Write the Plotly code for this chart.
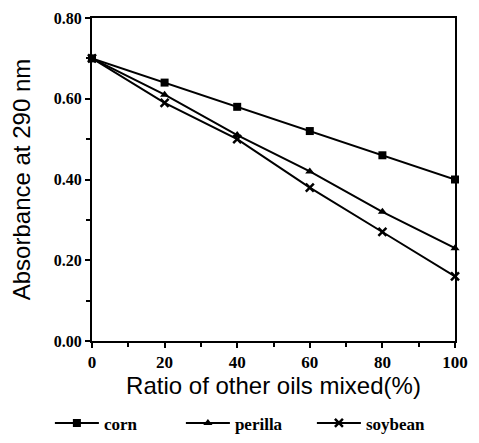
import plotly.graph_objects as go

ratio = [0, 20, 40, 60, 80, 100]
corn = [0.70, 0.64, 0.58, 0.52, 0.46, 0.40]
perilla = [0.70, 0.61, 0.51, 0.42, 0.32, 0.23]
soybean = [0.70, 0.59, 0.50, 0.38, 0.27, 0.16]

series = [("corn", corn, "square"), ("perilla", perilla, "triangle-up"), ("soybean", soybean, "x-thin-open")]

fig = go.Figure()
for name, vals, sym in series:
    fig.add_trace(go.Scatter(
        x=ratio, y=vals, name=name, mode="lines+markers", cliponaxis=False,
        line=dict(color="black", width=2),
        marker=dict(symbol=sym, size=8, color="black",
                    line=dict(color="black", width=2.5 if sym == "x-thin-open" else 0)),
    ))

serif = "Liberation Serif"
sans = "Liberation Sans"
fig.update_layout(
    width=479, height=443,
    margin=dict(l=84, r=32, t=10, b=107),
    paper_bgcolor="white", plot_bgcolor="white",
    showlegend=True,
    legend=dict(orientation="h", x=-0.116, xanchor="left", y=-0.255, yanchor="middle",
                font=dict(family=serif, size=17, color="black", weight="bold"),
                entrywidth=72, itemwidth=44, traceorder="normal"),
    xaxis=dict(range=[0, 100], tickvals=[0, 20, 40, 60, 80, 100],
               ticktext=["0", "20", "40", "60", "80", "100"],
               tickfont=dict(family=serif, size=17, color="black", weight="bold"),
               ticks="outside", ticklen=5, tickwidth=2, tickcolor="black",
               ticklabeloverflow="allow", automargin=False,
               minor=dict(dtick=10, ticks="outside", ticklen=4, tickwidth=1.5, tickcolor="black"),
               showline=True, linecolor="black", linewidth=2, mirror=True,
               showgrid=False, zeroline=False,
               title=dict(text="Ratio of other oils mixed(%)", font=dict(family=sans, size=24, color="black"), standoff=2)),
    yaxis=dict(range=[0, 0.8], tickvals=[0, 0.2, 0.4, 0.6, 0.8],
               ticktext=["0.00", "0.20", "0.40", "0.60", "0.80"],
               tickfont=dict(family=serif, size=16, color="black", weight="bold"),
               ticks="outside", ticklen=5, tickwidth=2, tickcolor="black",
               ticklabeloverflow="allow", automargin=False,
               minor=dict(dtick=0.1, ticks="outside", ticklen=4, tickwidth=1.5, tickcolor="black"),
               showline=True, linecolor="black", linewidth=2, mirror=True,
               showgrid=False, zeroline=False,
               title=dict(text="Absorbance at 290 nm", font=dict(family=sans, size=24, color="black"), standoff=16)),
)
fig.write_html("out.html")
